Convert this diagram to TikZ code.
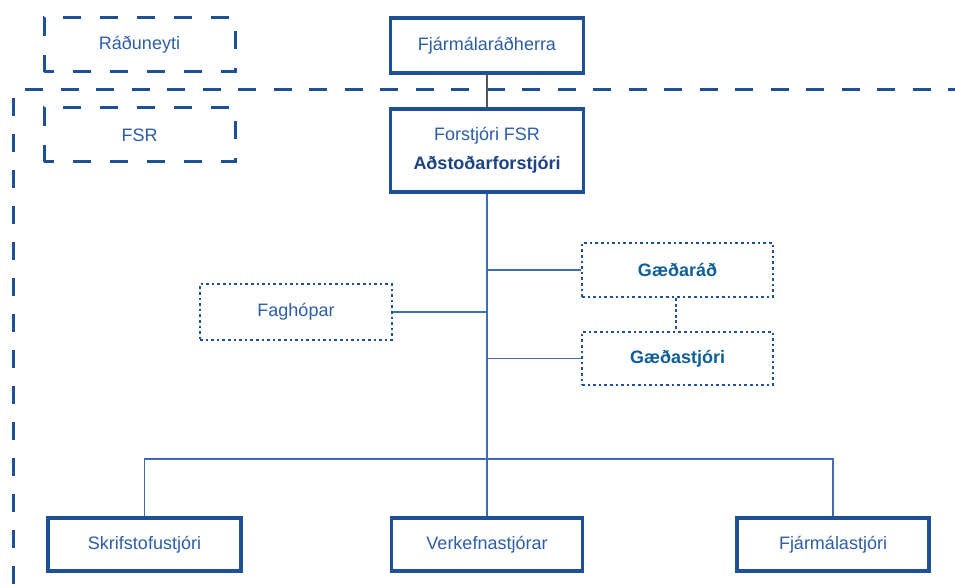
\documentclass[tikz,border=0pt]{standalone}
\usepackage{fontspec}
\setmainfont{Liberation Sans}
\definecolor{bordc}{HTML}{1E4F97}
\definecolor{txtc}{HTML}{2C5EA6}
\definecolor{linec}{HTML}{3F6DB3}
\definecolor{greyc}{HTML}{555555}
\definecolor{navyc}{HTML}{1D4384}
\definecolor{tealc}{HTML}{0E5F95}
\tikzset{
  basebox/.style={rectangle, inner sep=0pt, text=txtc, font=\fontsize{18}{29}\selectfont, align=center},
  solidbox/.style={basebox, draw=bordc, line width=3.5pt},
  dashbox/.style={basebox, draw=bordc, line width=3pt, dash pattern=on 18pt off 19pt, dash phase=8pt},
  dotbox/.style={basebox, draw=bordc, line width=2.8pt, dash pattern=on 2.6pt off 3pt},
  conn/.style={draw=linec, line width=1.6pt},
  boldteal/.style={font=\fontsize{18}{29}\selectfont\bfseries, text=tealc},
}
\begin{document}
\begin{tikzpicture}[x=1pt,y=-1pt]
\useasboundingbox (0,0) rectangle (955,588);
\fill[white] (0,0) rectangle (955,588);
% outer dashed frame
\draw[draw=bordc, line width=3pt, dash pattern=on 18pt off 17.5pt] (25,90) -- (966,90);
\draw[draw=bordc, line width=3pt, dash pattern=on 18pt off 18pt] (13,98) -- (13,588);
% dashed label boxes
\node[dashbox, minimum width=191pt, minimum height=54pt] (rad) at (139.5,45) {Ráðuneyti};
\node[dashbox, minimum width=191pt, minimum height=54pt] (fsr) at (139.5,135) {FSR};
% main boxes
\node[solidbox, minimum width=193pt, minimum height=55pt] (fjm) at (487,45.5) {Fjármálaráðherra};
\node[solidbox, minimum width=193pt, minimum height=83pt] (forst) at (487,150.5)
  {Forstjóri FSR\\{\bfseries\color{navyc}Aðstoðarforstjóri}};
% dotted boxes
\node[dotbox, boldteal, minimum width=191pt, minimum height=54pt] (gaedarad) at (677.5,270) {Gæðaráð};
\node[dotbox, boldteal, minimum width=191pt, minimum height=53pt] (gaedastj) at (677.5,358.5) {Gæðastjóri};
\node[dotbox, minimum width=192pt, minimum height=56pt] (fag) at (296,312) {Faghópar};
% bottom boxes
\node[solidbox, minimum width=193pt, minimum height=53pt] (skrif) at (144.5,544.5) {Skrifstofustjóri};
\node[solidbox, minimum width=191pt, minimum height=53pt] (verk) at (487,544.5) {Verkefnastjórar};
\node[solidbox, minimum width=192pt, minimum height=53pt] (fjarm) at (833,544.5) {Fjármálastjóri};
% connectors
\draw[draw=greyc, line width=1.3pt] (fjm.south) -- (forst.north);
\coordinate (busC) at (487,459);
\draw[conn] (forst.south) -- (busC);
\draw[conn] (gaedarad.west) -- (gaedarad.west -| forst.south);
\draw[conn] (gaedastj.west) -- (gaedastj.west -| forst.south);
\draw[conn] (fag.east) -- (fag.east -| forst.south);
\draw[conn] (skrif.north) |- (busC) -| (fjarm.north);
\draw[conn] (verk.north) -- (busC);
\draw[draw=bordc, line width=1.6pt, dash pattern=on 3pt off 2.5pt] ([xshift=-1.5pt]gaedarad.south) -- ([xshift=-1.5pt]gaedastj.north);
\end{tikzpicture}
\end{document}
